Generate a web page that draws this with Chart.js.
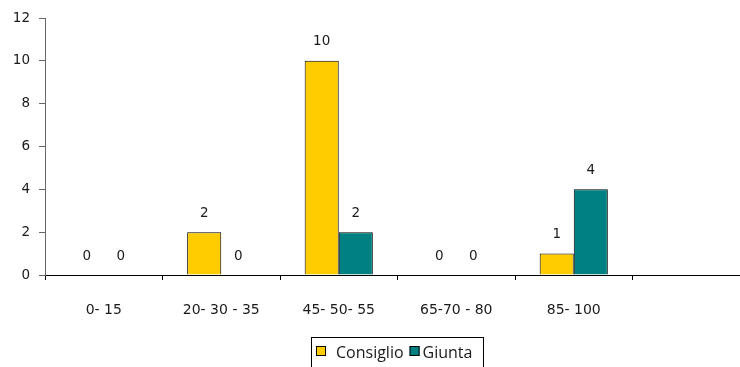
<!DOCTYPE html>
<html>
<head>
<meta charset="utf-8">
<script src="https://cdn.jsdelivr.net/npm/chart.js@4/dist/chart.umd.min.js"></script>
<style>
  html, body { margin: 0; padding: 0; background: #fff; overflow: hidden; }
  #wrap { position: relative; width: 752px; height: 367px; }
</style>
</head>
<body>
<div id="wrap"><canvas id="c"></canvas></div>
<script>
// Age bands (the last slot is left empty on purpose)
const categories = ['0- 15', '20- 30 - 35', '45- 50- 55', '65-70 - 80', '85- 100', ''];
const consiglio = [0, 2, 10, 0, 1, null];
const giunta    = [0, 0, 2, 0, 4, null];
const yTicks = [0, 2, 4, 6, 8, 10, 12];

const TEXT = '#1a1a1a';

// Writes each bar's value above it
const valueLabels = {
  id: 'valueLabels',
  afterDatasetsDraw(chart) {
    const ctx = chart.ctx;
    ctx.save();
    ctx.font = '13.5px "DejaVu Sans"';
    ctx.fillStyle = TEXT;
    ctx.textAlign = 'center';
    ctx.textBaseline = 'middle';
    chart.data.datasets.forEach((ds, i) => {
      chart.getDatasetMeta(i).data.forEach((bar, j) => {
        const v = ds.data[j];
        if (v === null || v === undefined) return;
        ctx.fillText(String(v), bar.x, bar.y - 19);
      });
    });
    ctx.restore();
  }
};

// Boxed legend under the plot
const boxedLegend = {
  id: 'boxedLegend',
  afterDraw(chart) {
    const ctx = chart.ctx;
    ctx.save();
    ctx.strokeStyle = '#000';
    ctx.lineWidth = 1;
    ctx.strokeRect(311.5, 337.5, 172, 40);
    ctx.font = '16px "Open Sans"';
    ctx.textBaseline = 'alphabetic';
    ctx.textAlign = 'left';
    let x = 316;
    const gaps = [10, 3];
    chart.data.datasets.forEach((ds, i) => {
      ctx.fillStyle = ds.backgroundColor;
      ctx.fillRect(x, 346, 10, 10);
      ctx.strokeRect(x + 0.5, 346.5, 9, 9);
      x += 10 + gaps[i];
      ctx.fillStyle = TEXT;
      ctx.fillText(ds.label, x, 358);
      x += ctx.measureText(ds.label).width + 6;
    });
    ctx.restore();
  }
};

new Chart(document.getElementById('c'), {
  type: 'bar',
  data: {
    labels: categories,
    datasets: [
      { label: 'Consiglio', data: consiglio, backgroundColor: '#FFCC00', borderColor: '#000', borderWidth: 1, borderSkipped: 'start' },
      { label: 'Giunta', data: giunta, backgroundColor: '#008080', borderColor: '#000', borderWidth: 1, borderSkipped: 'start' }
    ]
  },
  options: {
    responsive: true,
    maintainAspectRatio: false,
    animation: false,
    layout: { padding: { top: 18, right: 2, left: 0, bottom: 0 } },
    datasets: { bar: { categoryPercentage: 0.58, barPercentage: 1 } },
    plugins: {
      legend: { display: false },
      tooltip: { enabled: false }
    },
    scales: {
      x: {
        grid: { display: true, drawOnChartArea: false, drawTicks: true, tickLength: 5, color: '#000', offset: true },
        border: { display: true, color: '#000', width: 1 },
        ticks: { font: { family: 'DejaVu Sans', size: 14 }, color: TEXT, padding: 22, maxRotation: 0, autoSkip: false },
        afterFit(s) { s.height = 92; }
      },
      y: {
        min: 0,
        max: 12,
        afterBuildTicks(s) { s.ticks = yTicks.map(v => ({ value: v })); },
        grid: { display: true, drawOnChartArea: false, drawTicks: true, tickLength: 6, color: '#666' },
        border: { display: true, color: '#666', width: 1 },
        ticks: { font: { family: 'DejaVu Sans', size: 13.5 }, color: TEXT, padding: 9 },
        afterFit(s) { s.width = 45; }
      }
    }
  },
  plugins: [valueLabels, boxedLegend]
});
</script>
</body>
</html>
